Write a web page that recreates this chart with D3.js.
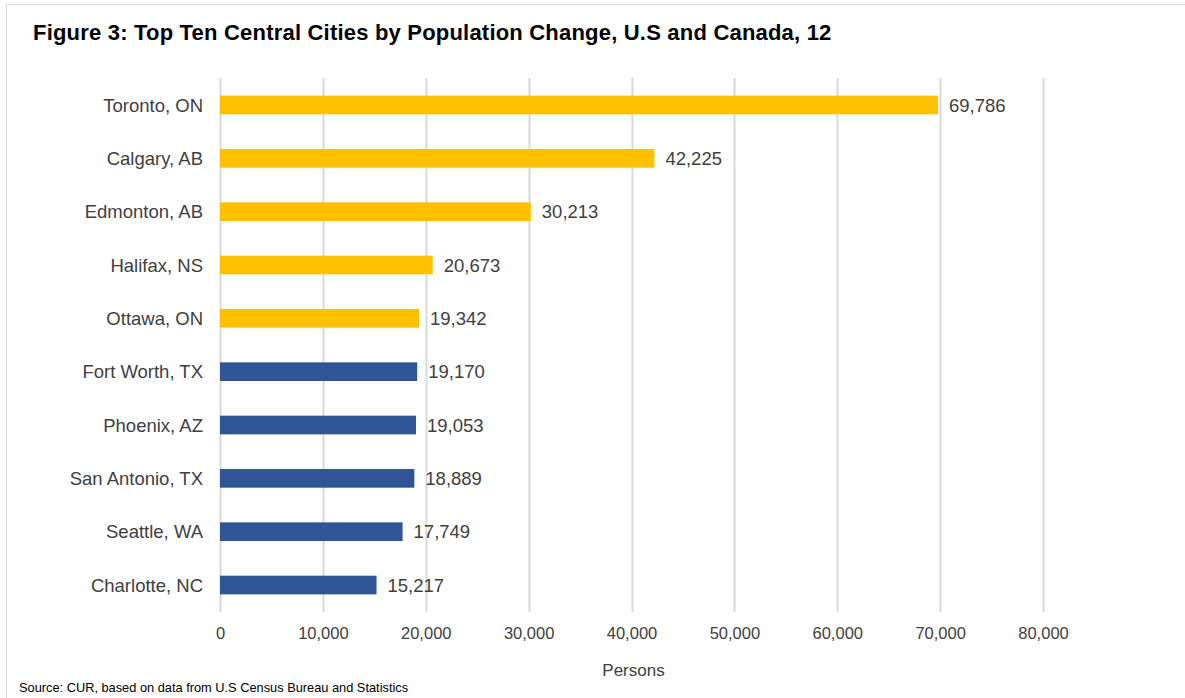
<!DOCTYPE html>
<html>
<head>
<meta charset="utf-8">
<script src="https://cdn.jsdelivr.net/npm/d3@7"></script>
<style>
    body { margin: 0; background: #fff; }
    svg { display: block; font-family: "Liberation Sans", Arial, sans-serif; }
</style>
</head>
<body>
<svg id="canvas" width="1185" height="698"></svg>
<script>
(function () {

    // Data.
    const cities = ["Toronto, ON", "Calgary, AB", "Edmonton, AB", "Halifax, NS", "Ottawa, ON",
        "Fort Worth, TX", "Phoenix, AZ", "San Antonio, TX", "Seattle, WA", "Charlotte, NC"];
    const changes = [69786, 42225, 30213, 20673, 19342, 19170, 19053, 18889, 17749, 15217];
    const countries = ["CA", "CA", "CA", "CA", "CA", "US", "US", "US", "US", "US"];
    const xTicks = [0, 10000, 20000, 30000, 40000, 50000, 60000, 70000, 80000];

    const COLORS = { CA: "#FFC000", US: "#2F5597" };
    const TEXT_COLOR = "#404040";
    const GRID_COLOR = "#D9D9D9";

    let data = cities.map((c, i) => ({ city: c, value: changes[i], country: countries[i] }));

    let svg = d3.select("#canvas");

    // Outer frame, only the top and left edges show.
    svg.append("rect")
        .attr("x", 6.5)
        .attr("y", 4.5)
        .attr("width", 1200)
        .attr("height", 720)
        .attr("fill", "none")
        .attr("stroke", GRID_COLOR)
        .attr("stroke-width", 1);

    let xScale = d3.scaleLinear().domain([0, 80000]).range([220, 1043]);
    let yScale = d3.scaleBand().domain(cities).range([78.3, 611.7]).paddingInner(0.65).paddingOuter(0.325);

    // Vertical gridlines.
    svg.append("g")
        .selectAll("line")
        .data(xTicks)
        .join("line")
        .attr("x1", d => Math.round(xScale(d)) + 0.5)
        .attr("x2", d => Math.round(xScale(d)) + 0.5)
        .attr("y1", 78)
        .attr("y2", 612)
        .attr("stroke", GRID_COLOR)
        .attr("stroke-width", 2);

    // Bars.
    svg.append("g")
        .selectAll("rect")
        .data(data)
        .join("rect")
        .attr("x", xScale(0))
        .attr("y", d => yScale(d.city))
        .attr("width", d => xScale(d.value) - xScale(0))
        .attr("height", yScale.bandwidth())
        .attr("fill", d => COLORS[d.country]);

    // Value labels.
    svg.append("g")
        .selectAll("text")
        .data(data)
        .join("text")
        .attr("x", d => xScale(d.value) + 11)
        .attr("y", d => yScale(d.city) + yScale.bandwidth() / 2)
        .attr("dy", "0.36em")
        .attr("font-size", 18.5)
        .attr("fill", TEXT_COLOR)
        .text(d => d3.format(",")(d.value));

    // Category axis.
    let yAxis = svg.append("g")
        .attr("transform", "translate(210, 0)")
        .call(d3.axisLeft(yScale).tickSize(0).tickPadding(7));
    yAxis.select(".domain").remove();
    yAxis.selectAll("text")
        .attr("font-size", 18.5)
        .attr("dy", "0.36em")
        .attr("font-family", "Liberation Sans, Arial, sans-serif")
        .attr("fill", TEXT_COLOR);

    // Value axis.
    let xAxis = svg.append("g")
        .attr("transform", "translate(0, 612)")
        .call(d3.axisBottom(xScale).tickValues(xTicks).tickFormat(d3.format(",")).tickSize(0).tickPadding(15));
    xAxis.select(".domain").remove();
    xAxis.selectAll("text")
        .attr("font-size", 16.5)
        .attr("font-family", "Liberation Sans, Arial, sans-serif")
        .attr("fill", TEXT_COLOR);

    // Axis title.
    svg.append("text")
        .attr("x", (xScale(0) + xScale(80000)) / 2 + 2)
        .attr("y", 676)
        .attr("text-anchor", "middle")
        .attr("font-size", 17)
        .attr("fill", TEXT_COLOR)
        .text("Persons");

    // Chart title.
    svg.append("text")
        .attr("x", 33)
        .attr("y", 40)
        .attr("font-size", 22)
        .attr("letter-spacing", 0.2)
        .attr("font-weight", "bold")
        .attr("fill", "#000")
        .text("Figure 3: Top Ten Central Cities by Population Change, U.S and Canada, 12");

    // Source note.
    svg.append("text")
        .attr("x", 19)
        .attr("y", 692)
        .attr("font-size", 12.8)
        .attr("fill", "#000")
        .text("Source: CUR, based on data from U.S Census Bureau and Statistics");

})();
</script>
</body>
</html>
